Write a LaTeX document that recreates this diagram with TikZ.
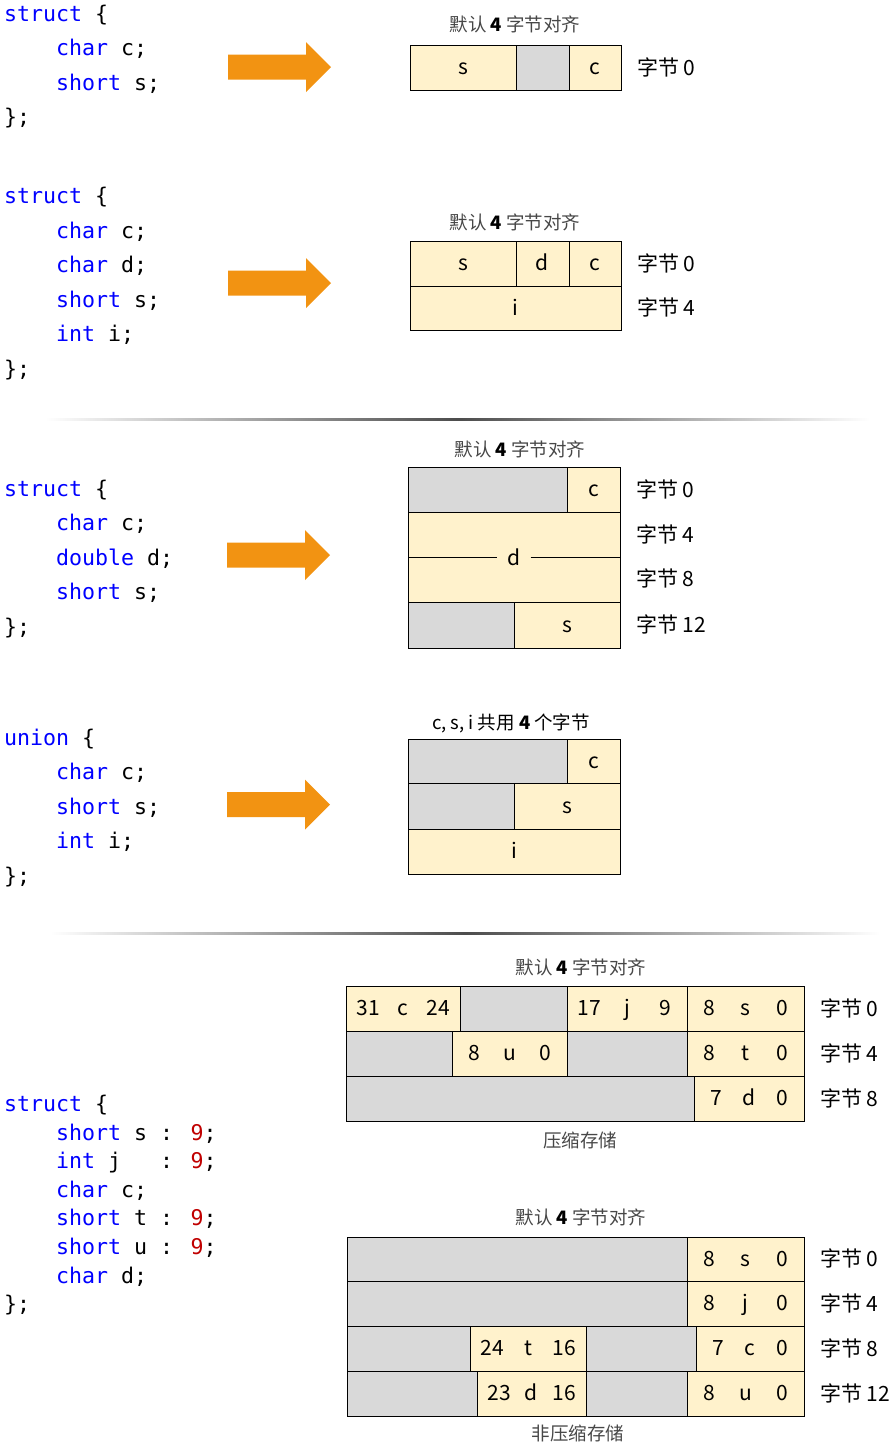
\documentclass[tikz,border=0pt]{standalone}
\usepackage{fontspec}
\setmainfont{Noto Sans CJK SC}
\newfontfamily\codefont{DejaVu Sans Mono}
\definecolor{cream}{HTML}{FFF2CC}
\definecolor{pad}{HTML}{D9D9D9}
\definecolor{kwblue}{HTML}{0000FF}
\definecolor{numred}{HTML}{C00000}
\definecolor{arrowor}{HTML}{F29312}

\newcommand\kw[1]{\textcolor{kwblue}{#1}}
\newcommand\nm[1]{\textcolor{numred}{#1}}

\tikzset{
  cellbase/.style={draw=black, line width=0.9pt, inner sep=0pt, outer sep=0pt},
  used/.style={cellbase, fill=cream},
  padding/.style={cellbase, fill=pad},
  celltext/.style={font=\fontsize{21}{25}\selectfont, inner sep=0pt, anchor=base},
  rowlabel/.style={font=\fontsize{21}{25}\selectfont, inner sep=0pt, anchor=base west},
  caption/.style={font=\fontsize{18.5}{22}\selectfont, text=black!72, inner sep=0pt, anchor=base},
  codeline/.style={font=\codefont\fontsize{21.6}{26}\selectfont, inner sep=0pt, anchor=base west},
  bigarrow/.style={fill=arrowor},
  rule/.style={left color=white, right color=white, middle color=black!70},
}

% plain cell: style, name, x1, y1, x2, y2
\newcommand\cell[6]{%
  \node[#1, minimum width={#5pt-#3pt}, minimum height={#6pt-#4pt}] (#2)
    at ({(#3+#5)/2},{(#4+#6)/2}) {};}
% cell with a centred field name
\newcommand\cellt[7]{%
  \cell{#1}{#2}{#3}{#4}{#5}{#6}%
  \node[celltext] (#2-t) at ([yshift=-7pt]#2.center) {#7};}
% bit-field cell: name, x1, y1, x2, y2, high bit, field, low bit
\newcommand\bits[8]{%
  \cell{used}{#1}{#2}{#3}{#4}{#5}%
  \node[celltext] (#1-l) at ([xshift=22pt,yshift=-7pt]#1.west) {#6};
  \node[celltext] (#1-m) at ([yshift=-7pt]#1.center) {#7};
  \node[celltext] (#1-r) at ([xshift=-22pt,yshift=-7pt]#1.east) {#8};}
% row label to the right of a cell
\newcommand\rowlab[4]{%
  \node[rowlabel] (#1) at ([xshift=#3pt,yshift=-7.5pt]#2.east) {#4};}
% thick block arrow: centre y, left x, tip x
\newcommand\blockarrow[3]{%
  \fill[bigarrow] (#2,#1-12.5) -- (#3-25,#1-12.5) -- (#3-25,#1-25) -- (#3,#1)
    -- (#3-25,#1+25) -- (#3-25,#1+12.5) -- (#2,#1+12.5) -- cycle;}

\begin{document}
\begin{tikzpicture}[x=1pt,y=-1pt]
\useasboundingbox (0,0) rectangle (892,1449);

% ---------- struct { char c; short s; }
\node[codeline] (a1) at (4,21) {\kw{struct} \{};
\node[codeline] (a2) at (56,55.5) {\kw{char} c;};
\node[codeline] (a3) at (56,90) {\kw{short} s;};
\node[codeline] (a4) at (4,124.5) {\};};
\blockarrow{67}{228}{331}
\node[caption] (at) at (515,31.5) {默认 \textcolor{black}{\textbf{4}} 字节对齐};
\cellt{used}{aS}{410}{45}{516}{90}{s}
\cell{padding}{aP}{516}{45}{569}{90}
\cellt{used}{aC}{569}{45}{621}{90}{c}
\rowlab{aL0}{aC}{16}{字节 0}

% ---------- struct { char c; char d; short s; int i; }
\node[codeline] (b1) at (4,203.5) {\kw{struct} \{};
\node[codeline] (b2) at (56,238) {\kw{char} c;};
\node[codeline] (b3) at (56,272.5) {\kw{char} d;};
\node[codeline] (b4) at (56,307) {\kw{short} s;};
\node[codeline] (b5) at (56,341.5) {\kw{int} i;};
\node[codeline] (b6) at (4,376) {\};};
\blockarrow{283}{228}{331}
\node[caption] (bt) at (515,229) {默认 \textcolor{black}{\textbf{4}} 字节对齐};
\cellt{used}{bS}{410}{241}{516}{286}{s}
\cellt{used}{bD}{516}{241}{569}{286}{d}
\cellt{used}{bC}{569}{241}{621}{286}{c}
\cellt{used}{bI}{410}{286}{621}{330}{i}
\rowlab{bL0}{bC}{16}{字节 0}
\rowlab{bL4}{bI}{16}{字节 4}

\shade[rule] (45,418.2) rectangle (870,420.2);

% ---------- struct { char c; double d; short s; }
\node[codeline] (c1) at (4,496) {\kw{struct} \{};
\node[codeline] (c2) at (56,530.5) {\kw{char} c;};
\node[codeline] (c3) at (56,565) {\kw{double} d;};
\node[codeline] (c4) at (56,599.5) {\kw{short} s;};
\node[codeline] (c5) at (4,634) {\};};
\blockarrow{555}{227}{330}
\node[caption] (ct) at (520,456.5) {默认 \textcolor{black}{\textbf{4}} 字节对齐};
\cell{padding}{cP1}{408}{467}{567}{512}
\cellt{used}{cC}{567}{467}{620}{512}{c}
\cell{used}{cD}{408}{512}{620}{602}
\node[celltext, anchor=center, minimum width=33pt, minimum height=20pt] (cDt) at (cD.center) {d};
\draw[line width=0.9pt] (cD.west) -- (cDt.west);
\draw[line width=0.9pt] (cDt.east) -- (cD.east);
\cell{padding}{cP2}{408}{602}{514}{648}
\cellt{used}{cS}{514}{602}{620}{648}{s}
\rowlab{cL0}{cC}{16}{字节 0}
\node[rowlabel] (cL4) at ([xshift=16pt,yshift=14.5pt]cD.east) {字节 4};
\node[rowlabel] (cL8) at ([xshift=16pt,yshift=-29.5pt]cD.east) {字节 8};
\rowlab{cL12}{cS}{16}{字节 12}

% ---------- union { char c; short s; int i; }
\node[codeline] (d1) at (4,745) {\kw{union} \{};
\node[codeline] (d2) at (56,779.5) {\kw{char} c;};
\node[codeline] (d3) at (56,814) {\kw{short} s;};
\node[codeline] (d4) at (56,848.5) {\kw{int} i;};
\node[codeline] (d5) at (4,883) {\};};
\blockarrow{804.5}{227}{330}
\node[caption, text=black] (dt) at (511,729) {c, s, i 共用 \textbf{4} 个字节};
\cell{padding}{dP1}{408}{739.5}{567}{783.5}
\cellt{used}{dC}{567}{739.5}{620}{783.5}{c}
\cell{padding}{dP2}{408}{783.5}{514}{829}
\cellt{used}{dS}{514}{783.5}{620}{829}{s}
\cellt{used}{dI}{408}{829}{620}{874.5}{i}

\shade[rule] (50,932.2) rectangle (880,934.2);

% ---------- bit-field struct
\node[codeline] (e1) at (4,1111.5) {\kw{struct} \{};
\node[codeline] (e2) at (56,1140) {\kw{short} s : \nm{9};};
\node[codeline] (e3) at (56,1168.5) {\kw{int} j\ \ \ : \nm{9};};
\node[codeline] (e4) at (56,1197) {\kw{char} c;};
\node[codeline] (e5) at (56,1225.5) {\kw{short} t : \nm{9};};
\node[codeline] (e6) at (56,1254) {\kw{short} u : \nm{9};};
\node[codeline] (e7) at (56,1283) {\kw{char} d;};
\node[codeline] (e8) at (4,1311.5) {\};};

% packed layout
\node[caption] (ft) at (581,974) {默认 \textcolor{black}{\textbf{4}} 字节对齐};
\bits{f1a}{346}{986}{460}{1031}{31}{c}{24}
\cell{padding}{f1b}{460}{986}{567}{1031}
\bits{f1c}{567}{986}{687}{1031}{17}{j}{9}
\bits{f1d}{687}{986}{804}{1031}{8}{s}{0}
\cell{padding}{f2a}{346}{1031}{452}{1076}
\bits{f2b}{452}{1031}{567}{1076}{8}{u}{0}
\cell{padding}{f2c}{567}{1031}{687}{1076}
\bits{f2d}{687}{1031}{804}{1076}{8}{t}{0}
\cell{padding}{f3a}{346}{1076}{694}{1121}
\bits{f3b}{694}{1076}{804}{1121}{7}{d}{0}
\rowlab{fL0}{f1d}{16}{字节 0}
\rowlab{fL4}{f2d}{16}{字节 4}
\rowlab{fL8}{f3b}{16}{字节 8}
\node[caption] (fc) at (580,1147) {压缩存储};

% unpacked layout
\node[caption] (gt) at (581,1224) {默认 \textcolor{black}{\textbf{4}} 字节对齐};
\cell{padding}{g1a}{347}{1237}{687}{1281}
\bits{g1b}{687}{1237}{804}{1281}{8}{s}{0}
\cell{padding}{g2a}{347}{1281}{687}{1326}
\bits{g2b}{687}{1281}{804}{1326}{8}{j}{0}
\cell{padding}{g3a}{347}{1326}{470}{1371}
\bits{g3b}{470}{1326}{586}{1371}{24}{t}{16}
\cell{padding}{g3c}{586}{1326}{696}{1371}
\bits{g3d}{696}{1326}{804}{1371}{7}{c}{0}
\cell{padding}{g4a}{347}{1371}{477}{1416}
\bits{g4b}{477}{1371}{586}{1416}{23}{d}{16}
\cell{padding}{g4c}{586}{1371}{687}{1416}
\bits{g4d}{687}{1371}{804}{1416}{8}{u}{0}
\rowlab{gL0}{g1b}{16}{字节 0}
\rowlab{gL4}{g2b}{16}{字节 4}
\rowlab{gL8}{g3d}{16}{字节 8}
\rowlab{gL12}{g4d}{16}{字节 12}
\node[caption] (gc) at (578,1440) {非压缩存储};
\end{tikzpicture}
\end{document}
